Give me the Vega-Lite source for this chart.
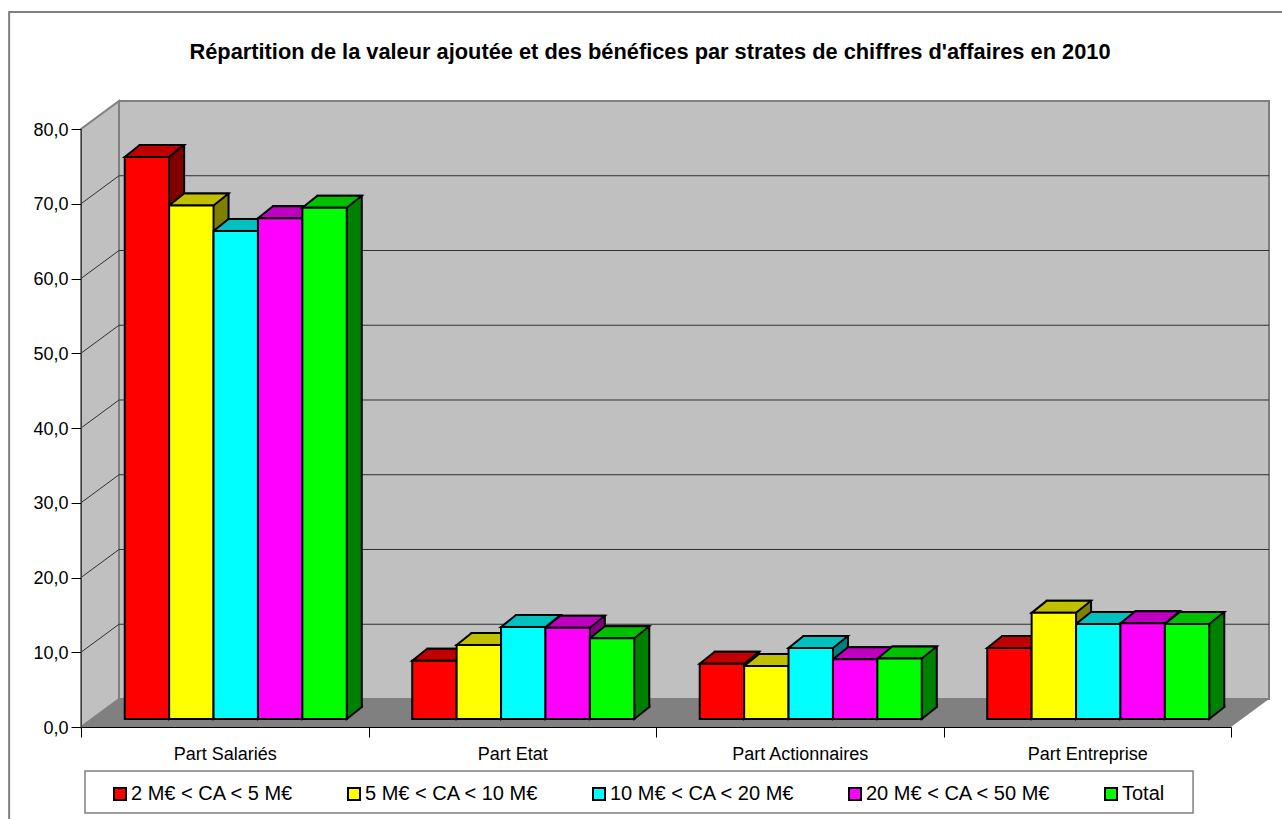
{"$schema":"https://vega.github.io/schema/vega-lite/v6.json","width":1282,"height":819,"padding":0,"autosize":{"type":"none"},"background":"white",
"title":{"text":"Répartition de la valeur ajoutée et des bénéfices par strates de chiffres d'affaires en 2010","font":"Liberation Sans","fontSize":21.8,"fontWeight":"bold","color":"black","anchor":"middle","frame":"group","dx":9,"offset":-64},
"config":{"view":{"stroke":null},"font":"Liberation Sans"},
"datasets":{
"bars":[
{"part":"Part Salariés","series":"2 M€ < CA < 5 M€","value":75.2},{"part":"Part Salariés","series":"5 M€ < CA < 10 M€","value":68.7},{"part":"Part Salariés","series":"10 M€ < CA < 20 M€","value":65.3},{"part":"Part Salariés","series":"20 M€ < CA < 50 M€","value":67.0},{"part":"Part Salariés","series":"Total","value":68.4},
{"part":"Part Etat","series":"2 M€ < CA < 5 M€","value":7.8},{"part":"Part Etat","series":"5 M€ < CA < 10 M€","value":9.9},{"part":"Part Etat","series":"10 M€ < CA < 20 M€","value":12.3},{"part":"Part Etat","series":"20 M€ < CA < 50 M€","value":12.2},{"part":"Part Etat","series":"Total","value":10.8},
{"part":"Part Actionnaires","series":"2 M€ < CA < 5 M€","value":7.4},{"part":"Part Actionnaires","series":"5 M€ < CA < 10 M€","value":7.1},{"part":"Part Actionnaires","series":"10 M€ < CA < 20 M€","value":9.5},{"part":"Part Actionnaires","series":"20 M€ < CA < 50 M€","value":8.0},{"part":"Part Actionnaires","series":"Total","value":8.1},
{"part":"Part Entreprise","series":"2 M€ < CA < 5 M€","value":9.5},{"part":"Part Entreprise","series":"5 M€ < CA < 10 M€","value":14.2},{"part":"Part Entreprise","series":"10 M€ < CA < 20 M€","value":12.7},{"part":"Part Entreprise","series":"20 M€ < CA < 50 M€","value":12.8},{"part":"Part Entreprise","series":"Total","value":12.7}],
"frame":[{"pos":4.18,"value":95.65,"o":1},{"pos":-0.25,"value":95.65,"o":2},{"pos":-0.25,"value":-12.3,"o":3}],
"legendbox":[{"pos":0.0139,"value":-5.886,"value2":-11.5},{"pos":3.868,"value":-5.886,"value2":-11.5}],
"leftwall":[{"pos":0,"value":0,"value2":80},{"pos":0.1322,"value":3.746,"value2":83.746}],
"backwall":[{"pos":0.1322,"value":3.746,"value2":83.746},{"pos":4.1322,"value":3.746,"value2":83.746}],
"floor":[{"pos":0,"value":0,"value2":0},{"pos":0.1322,"value":3.746,"value2":0},{"pos":4,"value":3.746,"value2":0},{"pos":4.1322,"value":3.746,"value2":3.746}],
"grid":[
{"level":10,"pos":0,"value":10,"o":1},{"level":10,"pos":0.1322,"value":13.746,"o":2},{"level":10,"pos":4.1322,"value":13.746,"o":3},
{"level":20,"pos":0,"value":20,"o":1},{"level":20,"pos":0.1322,"value":23.746,"o":2},{"level":20,"pos":4.1322,"value":23.746,"o":3},
{"level":30,"pos":0,"value":30,"o":1},{"level":30,"pos":0.1322,"value":33.746,"o":2},{"level":30,"pos":4.1322,"value":33.746,"o":3},
{"level":40,"pos":0,"value":40,"o":1},{"level":40,"pos":0.1322,"value":43.746,"o":2},{"level":40,"pos":4.1322,"value":43.746,"o":3},
{"level":50,"pos":0,"value":50,"o":1},{"level":50,"pos":0.1322,"value":53.746,"o":2},{"level":50,"pos":4.1322,"value":53.746,"o":3},
{"level":60,"pos":0,"value":60,"o":1},{"level":60,"pos":0.1322,"value":63.746,"o":2},{"level":60,"pos":4.1322,"value":63.746,"o":3},
{"level":70,"pos":0,"value":70,"o":1},{"level":70,"pos":0.1322,"value":73.746,"o":2},{"level":70,"pos":4.1322,"value":73.746,"o":3}]
},
"encoding":{"y":{"field":"value","type":"quantitative","stack":null,"scale":{"domain":[0,80],"range":[727,129],"nice":false,"zero":false},"axis":{"title":null,"values":[0,10,20,30,40,50,60,70,80],"offset":-81,"labelExpr":"replace(format(datum.value,'.1f'),'.',',')","labelFont":"Liberation Sans","labelFontSize":18,"labelColor":"black","labelPadding":3,"labelOffset":1,"tickSize":10,"tickColor":"black","domainColor":"#404040","grid":false,"zindex":1}}},
"layer":[
{"data":{"name":"frame"},"mark":{"type":"line","stroke":"#808080","strokeWidth":2},"encoding":{"x":{"field":"pos","type":"quantitative","scale":{"domain":[0,4],"range":[81,1231],"nice":false,"zero":false},"axis":null},"order":{"field":"o"}}},
{"data":{"name":"leftwall"},"mark":{"type":"area","fill":"#c0c0c0","stroke":"#808080","strokeWidth":2},"encoding":{"x":{"field":"pos","type":"quantitative","scale":{"domain":[0,4],"range":[81,1231],"nice":false,"zero":false},"axis":null},"y2":{"field":"value2"}}},
{"data":{"name":"backwall"},"mark":{"type":"area","fill":"#c0c0c0","stroke":"#808080","strokeWidth":2},"encoding":{"x":{"field":"pos","type":"quantitative","scale":{"domain":[0,4],"range":[81,1231],"nice":false,"zero":false},"axis":null},"y2":{"field":"value2"}}},
{"data":{"name":"floor"},"mark":{"type":"area","fill":"#808080"},"encoding":{"x":{"field":"pos","type":"quantitative","scale":{"domain":[0,4],"range":[81,1231],"nice":false,"zero":false},"axis":null},"y2":{"field":"value2"}}},
{"data":{"name":"grid"},"mark":{"type":"line","stroke":"#303030","strokeWidth":1},"encoding":{"x":{"field":"pos","type":"quantitative","scale":{"domain":[0,4],"range":[81,1231],"nice":false,"zero":false},"axis":null},"detail":{"field":"level"},"order":{"field":"o"}}},
{"data":{"name":"legendbox"},"mark":{"type":"area","fill":"white","stroke":"#808080","strokeWidth":1.5},"encoding":{"x":{"field":"pos","type":"quantitative","scale":{"domain":[0,4],"range":[81,1231],"nice":false,"zero":false},"axis":null},"y2":{"field":"value2"}}},
{"data":{"name":"bars"},"mark":{"type":"bar","opacity":0},
"encoding":{"x":{"field":"part","type":"nominal","sort":null,"scale":{"type":"band","domain":["Part Salariés","Part Etat","Part Actionnaires","Part Entreprise"],"range":[81,1231],"paddingInner":0,"paddingOuter":0},"axis":{"title":null,"orient":"bottom","offset":-92,"labelAngle":0,"labelFont":"Liberation Sans","labelFontSize":18,"labelColor":"black","labelPadding":8,"tickSize":10,"tickColor":"black","domainColor":"black","tickBand":"extent","grid":false,"zindex":1}}}},
{"data":{"name":"bars"},"mark":{"type":"bar","yOffset":-20,"y2Offset":-20,"stroke":"black","strokeWidth":2},
"encoding":{"y2":{"datum":0},"x":{"field":"part","type":"nominal","sort":null,"scale":{"type":"band","domain":["Part Salariés","Part Etat","Part Actionnaires","Part Entreprise"],"range":[107,1257],"paddingInner":0,"paddingOuter":0},"axis":null},
"xOffset":{"field":"series","type":"nominal","sort":null,"scale":{"type":"band","domain":["2 M€ < CA < 5 M€","5 M€ < CA < 10 M€","10 M€ < CA < 20 M€","20 M€ < CA < 50 M€","Total"],"paddingInner":0,"paddingOuter":0.737}},
"color":{"field":"series","type":"nominal","sort":null,"legend":null,"scale":{"domain":["2 M€ < CA < 5 M€","5 M€ < CA < 10 M€","10 M€ < CA < 20 M€","20 M€ < CA < 50 M€","Total"],"range":["#800000","#808000","#008080","#800080","#008000"]}}}},
{"data":{"name":"bars"},"mark":{"type":"point","filled":true,"opacity":1,"size":4,"shape":"M22.2,-15L22.2,0L37.2,-12L37.2,-15","yOffset":-8,"stroke":"black","strokeWidth":2},
"encoding":{"y":{"datum":0},"x":{"field":"part","type":"nominal","sort":null,"scale":{"type":"band","domain":["Part Salariés","Part Etat","Part Actionnaires","Part Entreprise"],"range":[92,1242],"paddingInner":0,"paddingOuter":0},"axis":null},
"xOffset":{"field":"series","type":"nominal","sort":null,"scale":{"type":"band","domain":["2 M€ < CA < 5 M€","5 M€ < CA < 10 M€","10 M€ < CA < 20 M€","20 M€ < CA < 50 M€","Total"],"paddingInner":0,"paddingOuter":0.737}},
"color":{"field":"series","type":"nominal","sort":null,"legend":null,"scale":{"domain":["2 M€ < CA < 5 M€","5 M€ < CA < 10 M€","10 M€ < CA < 20 M€","20 M€ < CA < 50 M€","Total"],"range":["#800000","#808000","#008080","#800080","#008000"]}}}},
{"data":{"name":"bars"},"mark":{"type":"point","filled":true,"opacity":1,"size":4,"shape":"M-22.2,0L22.2,0L37.2,-12L-7.2,-12Z","yOffset":-8,"stroke":"black","strokeWidth":2},
"encoding":{"x":{"field":"part","type":"nominal","sort":null,"scale":{"type":"band","domain":["Part Salariés","Part Etat","Part Actionnaires","Part Entreprise"],"range":[92,1242],"paddingInner":0,"paddingOuter":0},"axis":null},
"xOffset":{"field":"series","type":"nominal","sort":null,"scale":{"type":"band","domain":["2 M€ < CA < 5 M€","5 M€ < CA < 10 M€","10 M€ < CA < 20 M€","20 M€ < CA < 50 M€","Total"],"paddingInner":0,"paddingOuter":0.737}},
"color":{"field":"series","type":"nominal","sort":null,"legend":null,"scale":{"domain":["2 M€ < CA < 5 M€","5 M€ < CA < 10 M€","10 M€ < CA < 20 M€","20 M€ < CA < 50 M€","Total"],"range":["#c00000","#c0c000","#00c0c0","#c000c0","#00c000"]}}}},
{"data":{"name":"bars"},"mark":{"type":"bar","yOffset":-8,"y2Offset":-8,"stroke":"black","strokeWidth":2},
"encoding":{"y2":{"datum":0},"x":{"field":"part","type":"nominal","sort":null,"scale":{"type":"band","domain":["Part Salariés","Part Etat","Part Actionnaires","Part Entreprise"],"range":[92,1242],"paddingInner":0,"paddingOuter":0},"axis":null},
"xOffset":{"field":"series","type":"nominal","sort":null,"scale":{"type":"band","domain":["2 M€ < CA < 5 M€","5 M€ < CA < 10 M€","10 M€ < CA < 20 M€","20 M€ < CA < 50 M€","Total"],"paddingInner":0,"paddingOuter":0.737}},
"color":{"field":"series","type":"nominal","sort":null,"scale":{"domain":["2 M€ < CA < 5 M€","5 M€ < CA < 10 M€","10 M€ < CA < 20 M€","20 M€ < CA < 50 M€","Total"],"range":["#ff0000","#ffff00","#00ffff","#ff00ff","#00ff00"]},
"legend":{"title":null,"orient":"none","legendX":110,"legendY":784,"direction":"horizontal","columns":5,"columnPadding":50,"padding":0,"labelFont":"Liberation Sans","labelFontSize":20,"labelLimit":400,"labelColor":"black","labelOffset":1,"symbolType":"square","symbolSize":144,"symbolStrokeColor":"black","symbolStrokeWidth":2,"symbolOpacity":1}}}}
],
"resolve":{"scale":{"x":"independent","color":"independent"}}}
